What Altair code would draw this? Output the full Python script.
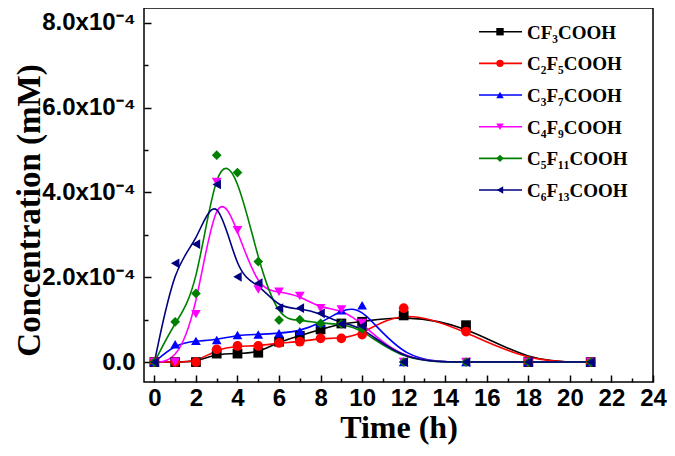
import altair as alt
import pandas as pd

# ---- data (values in mM) ----
times = [0, 1, 2, 3, 4, 5, 6, 7, 8, 9, 10, 12, 15, 18, 21]
names = ["CF₃COOH", "C₂F₅COOH", "C₃F₇COOH", "C₄F₉COOH", "C₅F₁₁COOH", "C₆F₁₃COOH"]
cf3 = [0, 0, 0, 0.20, 0.20, 0.22, 0.48, 0.62, 0.77, 0.91, 0.95, 1.10, 0.87, 0, 0]
c2f5 = [0, 0, 0, 0.30, 0.38, 0.38, 0.45, 0.48, 0.56, 0.56, 0.65, 1.27, 0.72, 0, 0]
c3f7 = [0, 0.42, 0.50, 0.52, 0.64, 0.65, 0.68, 0.73, 0.92, 1.22, 1.34, 0, 0, 0, 0]
c4f9 = [0, 0, 1.13, 4.25, 3.11, 1.71, 1.66, 1.56, 1.27, 1.24, 0.92, 0, 0, 0, 0]
c5f11 = [0, 0.95, 1.62, 4.88, 4.47, 2.37, 0.99, 1.00, 0.91, 0.90, 0.78, 0, 0, 0, 0]
c6f13 = [0, 2.33, 2.78, 4.19, 2.01, 1.86, 1.27, 1.27, 1.15, 0.90, 0.85, 0, 0, 0, 0]
series_values = [cf3, c2f5, c3f7, c4f9, c5f11, c6f13]
unit = 1e-4

colors = ["#000000", "#FF0000", "#0000FF", "#FF00FF", "#008000", "#000080"]
shapes = ["square", "circle", "triangle-up", "triangle-down", "diamond", "triangle-left"]

x_major = list(range(0, 25, 2))
x_minor = list(range(1, 24, 2))
y_major = [0, 2e-4, 4e-4, 6e-4, 8e-4]
y_minor = [1e-4, 3e-4, 5e-4, 7e-4]

rows = []
for si, (name, vals) in enumerate(zip(names, series_values)):
    for t, v in zip(times, vals):
        rows.append({"series": name, "idx": si, "time": t, "conc": v * unit})
df = pd.DataFrame(rows)
leg_df = pd.DataFrame({"series": names, "idx": list(range(len(names)))})

xs = alt.Scale(domain=[-0.5, 24], nice=False, zero=False)
ys = alt.Scale(domain=[-0.47e-4, 8.35e-4], nice=False, zero=False)
cs = alt.Scale(domain=names, range=colors)
ss = alt.Scale(domain=names, range=shapes)

SANS = "Liberation Sans"
SERIF = "Liberation Serif"

x_lab = alt.Axis(values=x_major, ticks=False, tickSize=0, domain=False, grid=False,
                 labelFont=SANS, labelFontSize=24, labelFontWeight="bold", labelColor="black",
                 labelPadding=4, labelFlush=False, labelOverlap=False,
                 title="Time (h)", titleFont=SERIF, titleFontSize=32,
                 titleFontWeight="bold", titleColor="black", titlePadding=2, orient="bottom")
y_lab = alt.Axis(values=y_major, ticks=False, tickSize=0, domain=False, grid=False,
                 labelExpr="datum.value == 0 ? '0.0' : format(datum.value*10000, '.1f') + 'x10⁻⁴'",
                 labelFont=SANS, labelFontSize=24, labelFontWeight="bold", labelColor="black",
                 labelPadding=9, labelFlush=False, labelOverlap=False,
                 title="Concentration (mM)", titleFont=SERIF, titleFontSize=33,
                 titleFontWeight="bold", titleColor="black", titleX=-115, titleY=202,
                 titleBaseline="middle", orient="left")


def tick_axis(vals, size, orient):
    return alt.Axis(values=vals, ticks=True, tickSize=size, offset=-size, labels=False,
                    domain=False, grid=False, title=None, tickColor="black",
                    tickWidth=1.5, orient=orient)


base = alt.Chart(df)

lines = base.mark_line(interpolate="basis", strokeWidth=1.6).encode(
    x=alt.X("time:Q", scale=xs, axis=x_lab),
    y=alt.Y("conc:Q", scale=ys, axis=y_lab),
    color=alt.Color("series:N", scale=cs, legend=None),
    detail="series:N",
)

points = base.mark_point(size=95, filled=True, opacity=1).encode(
    x=alt.X("time:Q", scale=xs, axis=tick_axis(x_major, 7, "bottom")),
    y=alt.Y("conc:Q", scale=ys, axis=tick_axis(y_major, 7, "left")),
    color=alt.Color("series:N", scale=cs, legend=None),
    shape=alt.Shape("series:N", scale=ss, legend=None),
    order=alt.Order("idx:Q"),
)

minor = base.mark_point(opacity=0).encode(
    x=alt.X("time:Q", scale=xs, axis=tick_axis(x_minor, 4, "bottom")),
    y=alt.Y("conc:Q", scale=ys, axis=tick_axis(y_minor, 4, "left")),
)

# legend, drawn from the series names through a point scale
ly = alt.Y("series:N", scale=alt.Scale(type="point", domain=names, range=[23.7, 182], padding=0),
           axis=None)
lbase = alt.Chart(leg_df)
leg_rule = lbase.mark_rule(strokeWidth=1.6).encode(
    x=alt.value(335), x2=alt.value(378), y=ly,
    color=alt.Color("series:N", scale=cs, legend=None),
)
leg_pts = lbase.mark_point(filled=True, size=55, opacity=1).encode(
    x=alt.value(356), y=ly,
    color=alt.Color("series:N", scale=cs, legend=None),
    shape=alt.Shape("series:N", scale=ss, legend=None),
)
leg_txt = lbase.mark_text(align="left", baseline="middle", font=SERIF, fontSize=19,
                          fontWeight="bold", color="black", dy=1).encode(
    x=alt.value(383), y=ly, text="series:N",
)

chart = alt.layer(lines, points, minor, leg_rule, leg_pts, leg_txt).resolve_scale(
    y="independent"
).resolve_axis(
    x="independent", y="independent"
).properties(
    width=509, height=374,
    autosize=alt.AutoSizeParams(type="none"),
    padding={"left": 136, "top": 0, "right": 14, "bottom": 66},
    background="white",
).configure_view(stroke="black", strokeWidth=1.5)

chart.save("out.html", embed_options={"renderer": "svg", "actions": False})
